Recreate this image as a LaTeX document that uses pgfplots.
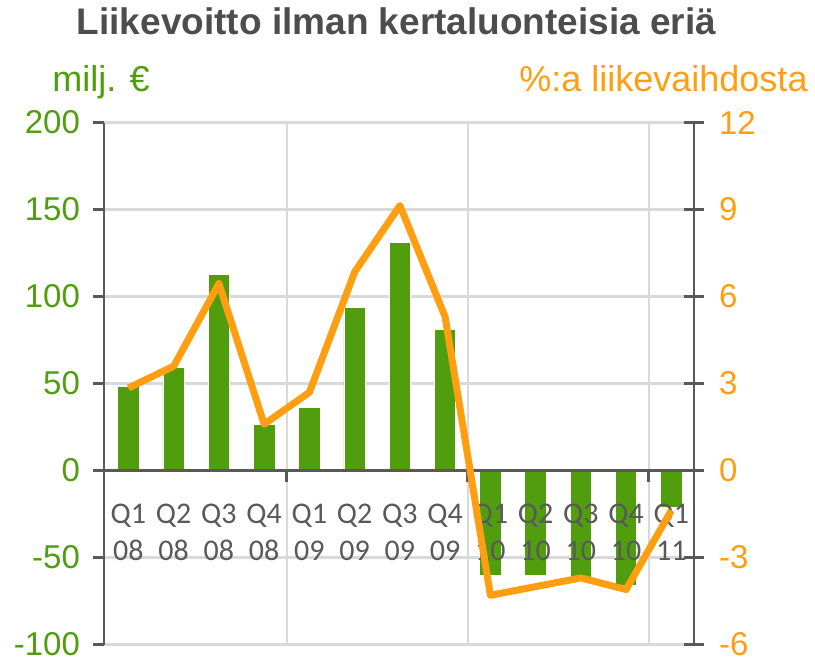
\documentclass[border=0pt]{standalone}
\usepackage{pgfplots}
\pgfplotsset{compat=1.18}
\usepackage{fontspec}
\setmainfont{Liberation Sans}
\newfontfamily\carlito{Carlito}
\definecolor{cgreen}{RGB}{80,158,14}
\definecolor{corange}{RGB}{255,158,16}
\definecolor{cgray}{RGB}{89,89,89}
\definecolor{cgrid}{RGB}{217,217,217}
\definecolor{ctitle}{RGB}{77,77,77}
\pgfplotsset{
  base/.style={at={(0,0)}, anchor=south west, scale only axis,
    width=295pt, height=261pt, xmin=-0.54, xmax=12.5,
    /pgf/number format/assume math mode=true, clip=false},
}
\begin{document}
\begin{tikzpicture}
\path[use as bounding box] (-52pt,-8.2pt) rectangle (355.5pt,322.3pt);
% axis 1: bars, left axis, grid
\begin{axis}[
  base, ymin=-100, ymax=200,
  axis x line*=middle, axis y line*=left,
  x axis line style={-, draw=cgray, line width=1.3pt},
  y axis line style={-, draw=cgray, line width=1.3pt},
  xtick={3.5,7.5,11.5}, xticklabels={},
  xmajorgrids, ymajorgrids,
  grid style={draw=cgrid, line width=1.2pt},
  ytick={-100,-50,0,50,100,150,200},
  yticklabel style={text=cgreen, font=\fontsize{16.5}{18}\selectfont, xshift=-3pt},
  tick align=outside, major tick length=5.5pt,
  tick style={draw=cgray, line width=1.3pt},
]
\addplot[ybar, bar width=0.475, fill=cgreen, draw=white, line width=0.4pt] coordinates {
  (0,48.4) (1,59.3) (2,112.5) (3,26.7) (4,36.3) (5,93.8) (6,131.1) (7,81.3)
  (8,-60) (9,-60) (10,-62) (11,-66) (12,-21)
};
\end{axis}
% axis 2: category labels above bars
\begin{axis}[
  base, ymin=-100, ymax=200,
  axis x line*=middle, axis y line=none,
  x axis line style={-, draw=cgray, line width=1.3pt},
  xtick={0,1,2,3,4,5,6,7,8,9,10,11,12},
  xticklabels={Q1\\08,Q2\\08,Q3\\08,Q4\\08,Q1\\09,Q2\\09,Q3\\09,Q4\\09,Q1\\10,Q2\\10,Q3\\10,Q4\\10,Q1\\11},
  major tick length=0pt,
  xticklabel style={align=center, text=cgray, font=\carlito\fontsize{15}{18.5}\selectfont, yshift=-13pt},
]
\addplot[draw=none, forget plot] coordinates {(0,0)};
\end{axis}
% axis 3: right axis and line
\begin{axis}[
  base, ymin=-6, ymax=12,
  axis x line=none, axis y line*=right,
  y axis line style={-, draw=cgray, line width=1.3pt},
  ytick={-6,-3,0,3,6,9,12},
  yticklabel style={text=corange, font=\fontsize{16.5}{18}\selectfont, xshift=4pt},
  tick align=center, major tick length=10pt,
  tick style={draw=cgray, line width=1.3pt},
]
\addplot[draw=corange, line width=3.5pt, line join=round, no markers] coordinates {
  (0,2.85) (1,3.6) (2,6.45) (3,1.6) (4,2.7) (5,6.85) (6,9.14) (7,5.3)
  (8,-4.3) (9,-4.0) (10,-3.7) (11,-4.1) (12,-1.37)
};
\end{axis}
\node[anchor=base, text=ctitle, font=\bfseries\fontsize{18.5}{20}\selectfont] at (146.25pt,305pt) {Liikevoitto ilman kertaluonteisia eriä};
\node[anchor=base west, inner sep=0pt, text=cgreen, font=\fontsize{18}{20}\selectfont] at (-26pt,276.5pt) {milj. €};
\node[anchor=base east, inner sep=0pt, text=corange, font=\fontsize{18}{20}\selectfont] at (352pt,276.5pt) {\%:a liikevaihdosta};
\end{tikzpicture}
\end{document}
